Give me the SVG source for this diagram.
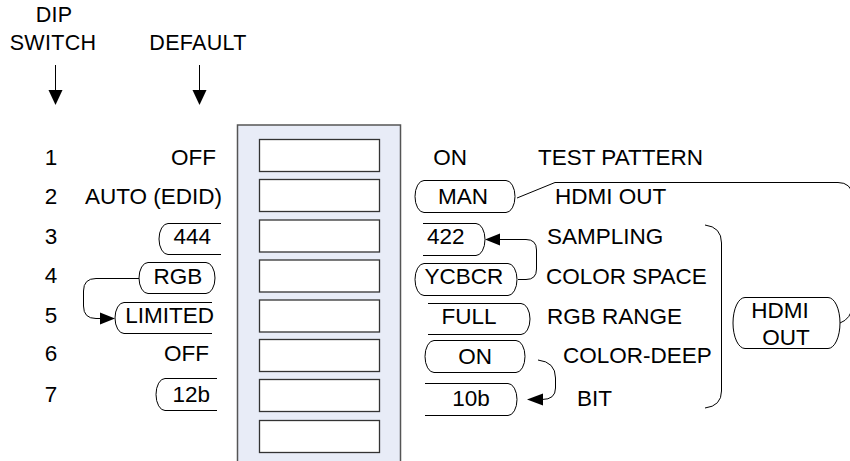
<svg xmlns="http://www.w3.org/2000/svg" width="850" height="461" viewBox="0 0 850 461">
<style>
text{font-family:"Liberation Sans",Arial,sans-serif;font-size:22.5px;fill:#000}
.hd{font-size:21.5px;letter-spacing:0.3px}
.m{text-anchor:middle}
.e{text-anchor:end}
.pill{fill:none;stroke:#000;stroke-width:1}
.sw{fill:#fff;stroke:#333;stroke-width:1.3}
.ln{fill:none;stroke:#000;stroke-width:1}
.ah{fill:#000}
</style>
<rect width="850" height="461" fill="#fff"/>
<g id="header">
<text class="hd m" x="54" y="22">DIP</text>
<text class="hd m" x="53" y="50">SWITCH</text>
<text class="hd m" x="198" y="50">DEFAULT</text>
<line class="ln" x1="55.5" y1="65" x2="55.5" y2="91"/>
<polygon class="ah" points="48.5,90 62.5,90 55.5,105"/>
<line class="ln" x1="199.5" y1="65" x2="199.5" y2="91"/>
<polygon class="ah" points="192.5,90 206.5,90 199.5,105"/>
</g>
<g id="panel">
<rect x="237.5" y="125" width="163" height="345" fill="#E8ECF7" stroke="#555" stroke-width="1.5"/>
<rect class="sw" x="259.5" y="139.5" width="120" height="32"/>
<rect class="sw" x="259.5" y="179.5" width="120" height="32"/>
<rect class="sw" x="259.5" y="220" width="120" height="32"/>
<rect class="sw" x="259.5" y="260" width="120" height="32"/>
<rect class="sw" x="259.5" y="300" width="120" height="32"/>
<rect class="sw" x="259.5" y="339.5" width="120" height="32"/>
<rect class="sw" x="259.5" y="379.5" width="120" height="32"/>
<rect class="sw" x="259.5" y="420.5" width="120" height="32"/>
</g>
<g id="numbers">
<text class="m" x="51" y="165">1</text>
<text class="m" x="51" y="204">2</text>
<text class="m" x="51" y="244">3</text>
<text class="m" x="51" y="283">4</text>
<text class="m" x="51" y="323">5</text>
<text class="m" x="51" y="361">6</text>
<text class="m" x="51" y="402">7</text>
</g>
<g id="defaults">
<text class="e" x="216" y="165">OFF</text>
<text class="e" x="222" y="204">AUTO (EDID)</text>
<g id="d444"><path class="pill" d="M221,223.5 H168 A9,15.5 0 0 0 168,254.5 H221"/><text class="e" x="211" y="244">444</text></g>
<g id="dRGB"><path class="pill" d="M148,262.5 H206 A9,15.5 0 0 1 206,293.5 H148 A9,15.5 0 0 1 148,262.5 Z"/><text class="m" x="178" y="284">RGB</text></g>
<g id="dLIMITED"><path class="pill" d="M212,302.5 H124 A9,15.5 0 0 0 124,333.5 H212"/><text class="e" x="214" y="323">LIMITED</text></g>
<text class="e" x="209" y="361">OFF</text>
<g id="d12b"><path class="pill" d="M217,378.5 H165 A9,16 0 0 0 165,410.5 H217"/><text class="e" x="210" y="402">12b</text></g>
</g>
<g id="options">
<text class="m" x="450" y="165">ON</text>
<text x="538" y="165">TEST PATTERN</text>
<g id="oMAN"><path class="pill" d="M424,180.5 H506 A9,16 0 0 1 506,212.5 H424 A9,16 0 0 1 424,180.5 Z"/><text class="m" x="463" y="204">MAN</text></g>
<text x="555" y="204">HDMI OUT</text>
<g id="o422"><path class="pill" d="M423,223.5 H476 A9,16 0 0 1 476,255.5 H423"/><text x="427" y="244">422</text></g>
<text x="547" y="244">SAMPLING</text>
<g id="oYCBCR"><path class="pill" d="M424,263.5 H508 A9,16 0 0 1 508,295.5 H424 A9,16 0 0 1 424,263.5 Z"/><text class="m" x="464" y="284">YCBCR</text></g>
<text x="546" y="284">COLOR SPACE</text>
<g id="oFULL"><path class="pill" d="M428,303.5 H521 A9,15.5 0 0 1 521,334.5 H428"/><text class="m" x="469" y="324">FULL</text></g>
<text x="547" y="324">RGB RANGE</text>
<g id="oON"><path class="pill" d="M434,340.5 H516 A9,16 0 0 1 516,372.5 H434 A9,16 0 0 1 434,340.5 Z"/><text class="m" x="475" y="364">ON</text></g>
<text x="563" y="363">COLOR-DEEP</text>
<g id="o10b"><path class="pill" d="M425,383.5 H508 A9,16 0 0 1 508,415.5 H425"/><text class="m" x="471" y="406">10b</text></g>
<text x="577" y="406">BIT</text>
<g id="hdmiout"><path class="pill" d="M745,297.5 H828 A12,25.5 0 0 1 828,348.5 H745 A12,25.5 0 0 1 745,297.5 Z"/><text class="m" x="780" y="318">HDMI</text><text class="m" x="786" y="345">OUT</text></g>
</g>
<g id="connectors">
<path class="ln" d="M139,278.5 H96 Q83.5,278.5 83.5,291 V306 Q83.5,318.5 96,318.5 H101"/>
<polygon class="ah" points="115,318.5 100,312.5 100,324.5"/>
<path class="ln" d="M518,279.5 H526 Q536.5,279.5 536.5,269 V250 Q536.5,239.5 526,239.5 H499"/>
<polygon class="ah" points="485,239.5 500,233.5 500,245.5"/>
<path class="ln" d="M538,360 Q555.5,362 555.5,378 V388 Q555.5,399.5 542,399.5"/>
<polygon class="ah" points="527,399.5 543,393.5 543,405.5"/>
<path class="ln" d="M517,198 L555,182.5 H838 Q851,182.5 853,196 V305 Q851,319 840,323"/>
<path class="ln" d="M705,225 Q721.5,227 721.5,243 V391 Q721.5,406 705,408"/>
</g>
</svg>
